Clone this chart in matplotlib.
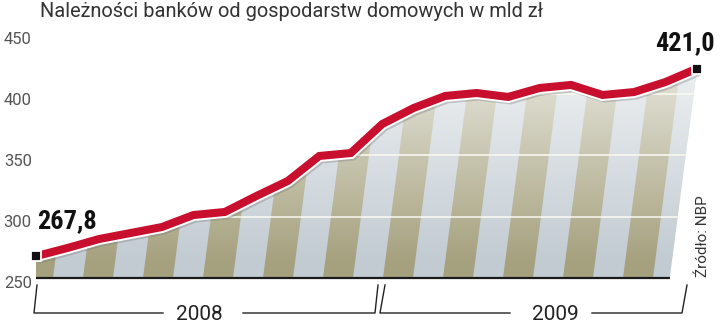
import numpy as np
import matplotlib
matplotlib.use('Agg')
import matplotlib.pyplot as plt
import matplotlib.patheffects as pe
import matplotlib.transforms as mtransforms
from matplotlib.patches import Polygon
from matplotlib import font_manager as fm

# monthly values, Jan 2008 .. Oct 2009 (bln zl)
values = [267.8, 274.5, 281.8, 286.7, 291.6, 301.4, 303.9, 316.9, 329.2, 349.6, 352.0,
          375.7, 388.8, 398.6, 401.0, 397.8, 405.1, 407.6, 399.4, 401.8, 410.0, 421.0]
months = np.arange(len(values))
yticks = [250, 300, 350, 400, 450]
years = ['2008', '2009']
first_label = '267,8'
last_label = '421,0'
title = 'Należności banków od gospodarstw domowych w mld zł'
source = 'Źródło: NBP'

names = {f.name for f in fm.fontManager.ttflist}


def pick(*cands):
    for c in cands:
        if c in names:
            return c
    return 'DejaVu Sans'


title_font = pick('Roboto', 'Open Sans', 'DejaVu Sans')
bold_font = pick('Roboto Condensed', 'Liberation Sans Narrow', 'DejaVu Sans')

RED = '#c8102e'
OLIVE = '#a5a17e'
LIGHT = '#c2cbd2'

fig = plt.figure(figsize=(7.2, 3.24), dpi=100)
# axes placed so month 0 -> x=36px, last -> 697px, 250 -> 278px, 450 -> 33px
ax = fig.add_axes([36 / 720, 46 / 324, 661 / 720, 245 / 324])
xmax = len(values) - 1
ax.set_xlim(0, xmax)
ax.set_ylim(250, 450)
for s in ax.spines.values():
    s.set_visible(False)
ax.set_xticks([])

px = xmax / 661.0          # months per pixel
lean = 0.13 * 1.225 * px   # horizontal shift (months) per value unit

# filled area under the line, right edge leaning like the stripes
right_bottom = xmax - (values[-1] - 250) * lean
verts = [(0, 250)] + list(zip(months, values)) + [(right_bottom, 250)]
area = Polygon(verts, closed=True, facecolor=LIGHT, edgecolor='none', zorder=1)
ax.add_patch(area)

# slanted stripes
period = 60 * px
width = 30 * px
slant = 200 * lean
x0 = -13 * px
for k in range(-1, 13):
    a = x0 + k * period
    poly = Polygon([(a, 250), (a + width, 250), (a + width + slant, 450), (a + slant, 450)],
                   closed=True, facecolor=OLIVE, edgecolor='none', zorder=2)
    ax.add_patch(poly)
    poly.set_clip_path(area)

# fade to white upwards
yy = np.linspace(250, 450, 200)
alpha = np.clip((yy - 262) / 225, 0, 0.85)
grad = np.ones((200, 1, 4))
grad[:, 0, 3] = alpha
im = ax.imshow(grad, extent=[0, xmax, 250, 450], origin='lower', aspect='auto', zorder=3)
im.set_clip_path(area)

for g in [300, 350, 400]:
    gl = ax.axhline(g, color='#fbfaf2', lw=1.1, zorder=4)
    gl.set_clip_path(area)

# baseline
ax.plot([0, right_bottom], [250, 250], color='#1a1a1a', lw=1.6, zorder=5, clip_on=False,
        solid_capstyle='butt')

# main line
ax.plot(months, values, color=RED, lw=5.8, zorder=6, clip_on=False,
        solid_joinstyle='miter', solid_capstyle='butt',
        path_effects=[pe.SimpleLineShadow(offset=(1.5, -2.5), shadow_color='#777777', alpha=0.35),
                      pe.Stroke(linewidth=8.6, foreground='white'), pe.Normal()])
ax.plot([months[0], months[-1]], [values[0], values[-1]], 's', color='#111111', ms=6.5,
        mec='white', mew=1.3, zorder=7, clip_on=False)

ax.annotate(first_label, xy=(months[0], values[0]), xytext=(0.5, 16.5), textcoords='offset points',
            ha='left', va='bottom', fontsize=19, fontweight='bold', family=bold_font,
            color='#111111', zorder=8)
ax.annotate(last_label, xy=(months[-1], values[-1]), xytext=(13, 9.7), textcoords='offset points',
            ha='right', va='bottom', fontsize=19, fontweight='bold', family=bold_font,
            color='#111111', zorder=8)

# y tick labels
ax.set_yticks(yticks)
ax.set_yticklabels([str(t) for t in yticks], fontsize=12, color='#555555', family=title_font)
ax.tick_params(axis='y', length=0, pad=3)
shift = mtransforms.ScaledTranslation(0, -4.5 / 100, fig.dpi_scale_trans)
for lab in ax.get_yticklabels():
    lab.set_transform(lab.get_transform() + shift)

# year brackets
tr = ax.get_xaxis_transform()
yb = -(313 - 278) / 245
yt = -(285 - 278) / 245
kw = dict(color='#222222', lw=1.0, transform=tr, clip_on=False)
ax.plot([1 * px, -2 * px, 127 * px], [yt, yb, yb], **kw)
ax.plot([207 * px, 339 * px, 342 * px], [yb, yb, yt], **kw)
ax.plot([349 * px, 344 * px, 474 * px], [yt, yb, yb], **kw)
ax.plot([556 * px, 646 * px, 651 * px], [yb, yb, yt], **kw)
ytxt = -(314 - 278) / 245
ax.text(163 * px, ytxt, years[0], transform=tr, ha='center', va='center', fontsize=15,
        color='#222222', family=title_font)
ax.text(519 * px, ytxt, years[1], transform=tr, ha='center', va='center', fontsize=15,
        color='#222222', family=title_font)

fig.text(40 / 720, 1 - 2 / 324, title, ha='left', va='top', fontsize=14.4, color='#333333',
         family=title_font)
fig.text(703 / 720, (324 - 277) / 324, source, rotation=90, ha='center', va='bottom',
         fontsize=11, color='#333333', family=title_font)

fig.savefig('out.png', dpi=100)
